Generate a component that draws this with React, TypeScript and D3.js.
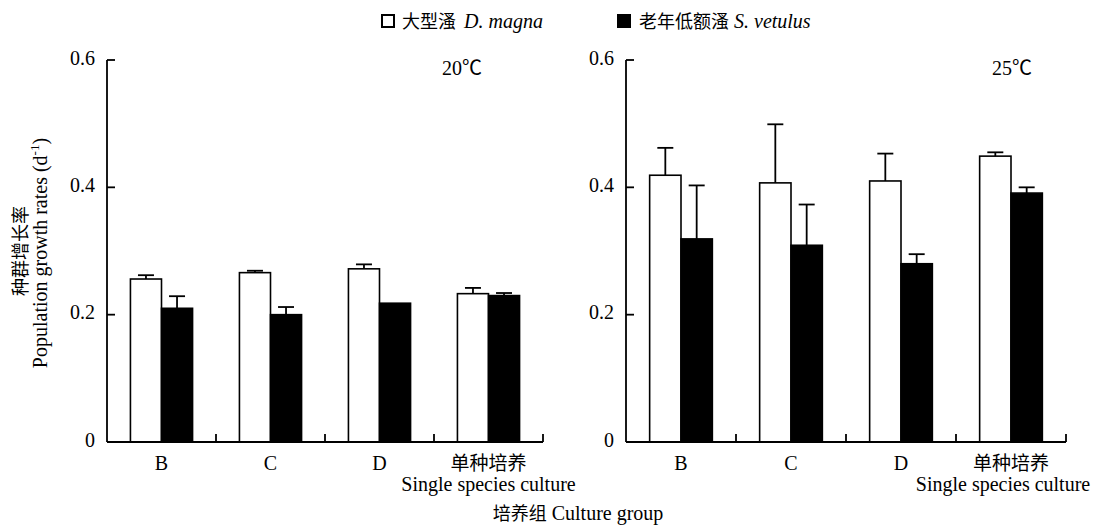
import React from "react";
import * as d3 from "d3";

// Culture groups on the x axis
const categories = ["B", "C", "D", "单种培养"];
const categorySubLabel = "Single species culture";

// Series (species)
const seriesNames = ["大型溞", "老年低额溞"];
const seriesLatin = ["D. magna", "S. vetulus"];

// Population growth rates (d^-1), mean and standard error, 20 ℃
const magna20 = [0.256, 0.266, 0.272, 0.233];
const magna20Err = [0.006, 0.003, 0.007, 0.009];
const vetulus20 = [0.21, 0.2, 0.218, 0.23];
const vetulus20Err = [0.019, 0.012, 0, 0.004];

// Population growth rates (d^-1), mean and standard error, 25 ℃
const magna25 = [0.419, 0.407, 0.41, 0.449];
const magna25Err = [0.043, 0.092, 0.043, 0.006];
const vetulus25 = [0.319, 0.309, 0.28, 0.391];
const vetulus25Err = [0.084, 0.064, 0.015, 0.009];

const yTicks = [0, 0.2, 0.4, 0.6];
const panelTitles = ["20℃", "25℃"];

const W = 1096;
const H = 526;
const FONT = "'Liberation Serif', 'Times New Roman', 'Noto Sans CJK SC', serif";
const CJK = "'Noto Sans CJK SC', 'Liberation Serif', serif";

type PanelSpec = {
  title: string;
  x0: number;
  x1: number;
  titleX: number;
  values: number[][];
  errors: number[][];
};

const panels: PanelSpec[] = [
  {
    title: panelTitles[0],
    x0: 107,
    x1: 543,
    titleX: 462,
    values: [magna20, vetulus20],
    errors: [magna20Err, vetulus20Err],
  },
  {
    title: panelTitles[1],
    x0: 626,
    x1: 1066,
    titleX: 1012,
    values: [magna25, vetulus25],
    errors: [magna25Err, vetulus25Err],
  },
];

const yTop = 60;
const yBottom = 442;
const fills = ["#ffffff", "#000000"];

function Panel({ p }: { p: PanelSpec }) {
  const y = d3.scaleLinear().domain([0, 0.6]).range([yBottom, yTop]);
  const x = d3
    .scaleBand<string>()
    .domain(categories)
    .range([p.x0, p.x1])
    .paddingInner(0.43)
    .paddingOuter(0.215);
  const xs = d3
    .scaleBand<string>()
    .domain(seriesNames)
    .range([0, x.bandwidth()]);
  const step = x.step();
  const capW = 16;
  const fmt = (v: number) => (v === 0 ? "0" : d3.format(".1f")(v));

  return (
    <g>
      {/* bars */}
      {seriesNames.map((s, si) =>
        categories.map((c, ci) => {
          const v = p.values[si][ci];
          const bx = (x(c) as number) + (xs(s) as number);
          return (
            <rect
              key={`b-${si}-${ci}`}
              x={bx}
              y={y(v)}
              width={xs.bandwidth()}
              height={yBottom - y(v)}
              fill={fills[si]}
              stroke="#000"
              strokeWidth={1.6}
            />
          );
        })
      )}
      {/* error bars (upper only) */}
      {seriesNames.map((s, si) =>
        categories.map((c, ci) => {
          const v = p.values[si][ci];
          const e = p.errors[si][ci];
          if (!e) return null;
          const cx = (x(c) as number) + (xs(s) as number) + xs.bandwidth() / 2;
          return (
            <g key={`e-${si}-${ci}`} stroke="#000" strokeWidth={1.8}>
              <line x1={cx} x2={cx} y1={y(v)} y2={y(v + e)} />
              <line x1={cx - capW / 2} x2={cx + capW / 2} y1={y(v + e)} y2={y(v + e)} />
            </g>
          );
        })
      )}
      {/* axes */}
      <line x1={p.x0} x2={p.x0} y1={yTop} y2={yBottom} stroke="#000" strokeWidth={1.8} />
      <line x1={p.x0} x2={p.x1} y1={yBottom} y2={yBottom} stroke="#000" strokeWidth={1.8} />
      {yTicks.map((t) => (
        <g key={`yt-${t}`}>
          {t > 0 && (
            <line x1={p.x0} x2={p.x0 + 8} y1={y(t)} y2={y(t)} stroke="#000" strokeWidth={1.8} />
          )}
          <text
            x={p.x0 - 12}
            y={y(t)}
            textAnchor="end"
            dominantBaseline="middle"
            fontFamily={FONT}
            fontSize={20}
          >
            {fmt(t)}
          </text>
        </g>
      ))}
      {categories.map((c, i) => {
        const tx = p.x0 + (i + 1) * step;
        const cx = (x(c) as number) + x.bandwidth() / 2;
        const isCjk = /[\u4e00-\u9fff]/.test(c);
        const subHalf = 87;
        const subX = Math.min(cx, W - 6 - subHalf);
        return (
          <g key={`xt-${c}`}>
            <line x1={tx} x2={tx} y1={yBottom} y2={yBottom - 8} stroke="#000" strokeWidth={1.8} />
            <text
              x={cx}
              y={470}
              textAnchor="middle"
              fontFamily={isCjk ? CJK : FONT}
              fontSize={isCjk ? 19 : 20}
            >
              {c}
            </text>
            {isCjk && (
              <text x={subX} y={491} textAnchor="middle" fontFamily={FONT} fontSize={20}>
                {categorySubLabel}
              </text>
            )}
          </g>
        );
      })}
      <text x={p.titleX} y={75} textAnchor="middle" fontFamily={FONT} fontSize={20}>
        {p.title}
      </text>
    </g>
  );
}

export default function App() {
  return (
    <svg
      width={W}
      height={H}
      viewBox={`0 0 ${W} ${H}`}
      style={{ position: "absolute", left: 0, top: 0, background: "#fff" }}
    >
      <rect x={0} y={0} width={W} height={H} fill="#fff" />
      {/* legend */}
      <rect x={382} y={15} width={12} height={12} fill="#fff" stroke="#000" strokeWidth={2} />
      <text x={402} y={28} fontFamily={FONT} fontSize={20}>
        <tspan fontFamily={CJK} fontSize={18}>{seriesNames[0]}</tspan>
        <tspan fontStyle="italic" dx={8}>{seriesLatin[0]}</tspan>
      </text>
      <rect x={618} y={15} width={12} height={12} fill="#000" stroke="#000" strokeWidth={2} />
      <text x={639} y={28} fontFamily={FONT} fontSize={20}>
        <tspan fontFamily={CJK} fontSize={18}>{seriesNames[1]}</tspan>
        <tspan fontStyle="italic" dx={5}>{seriesLatin[1]}</tspan>
      </text>

      {panels.map((p) => (
        <Panel key={p.title} p={p} />
      ))}

      {/* y-axis title */}
      <text
        transform={`translate(27, 251) rotate(-90)`}
        textAnchor="middle"
        fontFamily={CJK}
        fontSize={18}
      >
        种群增长率
      </text>
      <text
        transform={`translate(47, 253) rotate(-90)`}
        textAnchor="middle"
        fontFamily={FONT}
        fontSize={20}
      >
        Population growth rates (d
        <tspan fontSize={13} dy={-8}>
          -1
        </tspan>
        <tspan dy={8}>)</tspan>
      </text>

      {/* x-axis title */}
      <text x={578} y={520} textAnchor="middle" fontFamily={FONT} fontSize={20}>
        <tspan fontFamily={CJK} fontSize={18}>培养组</tspan>
        <tspan dx={5}>Culture group</tspan>
      </text>
    </svg>
  );
}
